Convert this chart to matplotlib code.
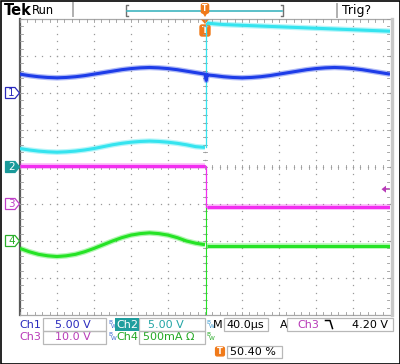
import numpy as np
import matplotlib
matplotlib.use("Agg")
import matplotlib.pyplot as plt
from matplotlib.patches import Rectangle, Polygon, FancyBboxPatch

# ---------------- data (screen divisions: x -5..5, y -4..4) ----------------
x_pre = [-5.0, -4.75, -4.5, -4.25, -4.0, -3.75, -3.5, -3.25, -3.0, -2.75, -2.5,
         -2.25, -2.0, -1.75, -1.5, -1.25, -1.0, -0.75, -0.5, -0.25, 0.0]
x_post = [0.05, 0.25, 0.5, 0.75, 1.0, 1.25, 1.5, 1.75, 2.0, 2.25, 2.5,
          2.75, 3.0, 3.25, 3.5, 3.75, 4.0, 4.25, 4.5, 4.75, 5.0]

ch1_pre = [2.51, 2.47, 2.44, 2.42, 2.41, 2.42, 2.44, 2.47, 2.51, 2.55, 2.59,
           2.63, 2.66, 2.68, 2.69, 2.68, 2.66, 2.63, 2.59, 2.55, 2.51]
ch1_glitch_x = [0.02, 0.035, 0.06]
ch1_glitch_y = [2.40, 2.34, 2.49]
ch1_post = [2.49, 2.47, 2.44, 2.42, 2.41, 2.42, 2.44, 2.47, 2.51, 2.55, 2.59,
            2.63, 2.66, 2.68, 2.69, 2.68, 2.66, 2.63, 2.59, 2.55, 2.51]
ch2_pre = [0.50, 0.46, 0.43, 0.41, 0.40, 0.41, 0.43, 0.46, 0.50, 0.55, 0.60,
           0.64, 0.67, 0.69, 0.70, 0.69, 0.67, 0.64, 0.60, 0.55, 0.53]
ch2_post = [3.89, 3.87, 3.85, 3.84, 3.83, 3.82, 3.81, 3.80, 3.79, 3.78, 3.77,
            3.76, 3.75, 3.74, 3.73, 3.72, 3.71, 3.70, 3.69, 3.68, 3.67]
ch3_pre = [0.04, 0.04, 0.04, 0.04, 0.04, 0.04, 0.04, 0.04, 0.04, 0.04, 0.04,
           0.04, 0.04, 0.04, 0.04, 0.04, 0.04, 0.04, 0.04, 0.04, 0.04]
ch3_post = [-1.08, -1.08, -1.08, -1.08, -1.08, -1.08, -1.08, -1.08, -1.08, -1.08, -1.08,
            -1.08, -1.08, -1.08, -1.08, -1.08, -1.08, -1.08, -1.08, -1.08, -1.08]
ch4_pre = [-2.20, -2.29, -2.36, -2.40, -2.42, -2.40, -2.36, -2.29, -2.20, -2.10, -2.00,
           -1.91, -1.84, -1.80, -1.78, -1.80, -1.84, -1.91, -2.00, -2.06, -2.10]
ch4_post = [-2.14, -2.14, -2.14, -2.14, -2.14, -2.14, -2.14, -2.14, -2.14, -2.14, -2.14,
            -2.14, -2.14, -2.14, -2.14, -2.14, -2.14, -2.14, -2.14, -2.14, -2.14]

ground_levels = [2.0, 0.0, -1.0, -2.0]   # channel 1..4 markers (div)
trig_level = -0.6                         # trigger level arrow (div)

ch_labels = ["Ch1", "Ch2", "Ch3", "Ch4"]
ch_scales = ["5.00 V", "5.00 V", "10.0 V", "500mA"]
timebase = "40.0\u00b5s"
trig_src = "Ch3"
trig_val = "4.20 V"
trig_pos = "50.40 %"

# ---------------- styles ----------------
C_BLUE, C_CYAN, C_MAG, C_GRN = "#1d3ce8", "#35e4ef", "#f22ef0", "#25e325"
T_BLUE, T_TEAL, T_MAG, T_GRN = "#2b2bbd", "#1f9e9e", "#b83ab8", "#22a822"
ORANGE = "#f07a1a"
GRAY = "#9a9a9a"
FONT = "DejaVu Sans"

W, H = 400, 364
fig = plt.figure(figsize=(W / 100, H / 100), dpi=100)
fig.patch.set_facecolor("white")

# overlay axes in pixel coordinates
ov = fig.add_axes([0, 0, 1, 1])
ov.set_xlim(0, W)
ov.set_ylim(H, 0)
ov.axis("off")

# graticule axes
L, R, T, B = 20, 390, 19, 315
ax = fig.add_axes([L / W, (H - B) / H, (R - L) / W, (B - T) / H])
ax.set_xlim(-5, 5)
ax.set_ylim(-4, 4)
ax.axis("off")
ax.patch.set_alpha(0)

# dotted grid
fine_x = np.arange(-5, 5.001, 0.2)
fine_y = np.arange(-4, 4.001, 0.2)
for gy in range(-3, 4):
    ax.plot(fine_x, np.full_like(fine_x, gy), ls="none", marker="s", ms=0.9,
            mfc=GRAY, mec="none", zorder=1)
for gx in range(-4, 5):
    ax.plot(np.full_like(fine_y, gx), fine_y, ls="none", marker="s", ms=0.9,
            mfc=GRAY, mec="none", zorder=1)
# center cross tick marks
tk = 2.0 / 37
for v in fine_x:
    ax.plot([v, v], [-tk, tk], color=GRAY, lw=0.6, zorder=1)
for v in fine_y:
    ax.plot([-tk, tk], [v, v], color=GRAY, lw=0.6, zorder=1)
# border ticks
tb = 3.0 / 37
for v in fine_x:
    ax.plot([v, v], [4, 4 - tb], color=GRAY, lw=0.6, zorder=1)
    ax.plot([v, v], [-4, -4 + tb], color=GRAY, lw=0.6, zorder=1)
for v in fine_y:
    ax.plot([-5, -5 + tb], [v, v], color=GRAY, lw=0.6, zorder=1)
    ax.plot([5, 5 - tb], [v, v], color=GRAY, lw=0.6, zorder=1)


def trace(xs, ys, color, lw_core=2.2, lw_halo=4.0, z=3):
    ax.plot(xs, ys, color=color, lw=lw_halo, alpha=0.35, solid_capstyle="butt",
            solid_joinstyle="round", zorder=z)
    ax.plot(xs, ys, color=color, lw=lw_core, solid_capstyle="butt",
            solid_joinstyle="round", zorder=z + 0.1)


# thin transition lines at trigger
ax.plot([0.03, 0.03], [ch3_post[0], -4], color=C_GRN, lw=0.8, zorder=2)
ax.plot([0.02, 0.02], [ch2_pre[-1], ch2_post[0]], color=C_CYAN, lw=0.9, zorder=2)
ax.plot([0.02, 0.02], [ch3_pre[-1], ch3_post[0]], color=C_MAG, lw=0.9, zorder=2)

trace(x_pre + ch1_glitch_x + x_post, ch1_pre + ch1_glitch_y + ch1_post, C_BLUE)
trace(x_pre, ch2_pre, C_CYAN)
trace(x_post, ch2_post, C_CYAN)
trace(x_pre, ch3_pre, C_MAG)
trace(x_post, ch3_post, C_MAG)
trace(x_pre, ch4_pre, C_GRN)
trace(x_post, ch4_post, C_GRN)

# ---------------- frame ----------------
ov.plot([L, L], [T, B], color="#5a5a5a", lw=1.6, zorder=5)
ov.plot([L, R], [T, T], color="#a8a8a8", lw=0.9, zorder=5)
ov.plot([L, R], [B, B], color="#a8a8a8", lw=0.9, zorder=5)
ov.plot([R + 1.5, R + 1.5], [T, B], color="#c8c8c8", lw=2.4, zorder=5)
ov.add_patch(Rectangle((0.5, 0.5), W - 1, H - 1, fill=False, ec="black", lw=1.2, zorder=10))

# ---------------- top bar ----------------
ov.text(4, 10.5, "Tek", fontsize=10.5, fontweight="bold", family=FONT, va="center", ha="left")
ov.text(32, 10, "Run", fontsize=8.3, family=FONT, va="center", ha="left")
ov.plot([73, 73], [3, 16], color="#b0b0b0", lw=1.4)
ov.plot([337, 337], [4, 17], color="#b0b0b0", lw=1.4)
ov.text(342, 10.5, "Trig?", fontsize=9, family=FONT, va="center", ha="left")
# record bracket
ov.plot([128, 126, 126, 128], [5, 5, 16, 16], color="#707070", lw=1.0)
ov.plot([281, 283, 283, 281], [5, 5, 16, 16], color="#707070", lw=1.0)
ov.plot([127, 282], [11, 11], color="#3fb5c0", lw=1.2)
ov.add_patch(FancyBboxPatch((202, 4.5), 6, 8, boxstyle="round,pad=0.6,rounding_size=1.5",
                            fc=ORANGE, ec=ORANGE, zorder=6))
ov.add_patch(Polygon([[202.5, 13], [207.5, 13], [205, 17]], closed=True, fc=ORANGE, ec="none", zorder=6))
ov.text(205, 8.8, "T", color="white", fontsize=5.5, fontweight="bold", family=FONT,
        ha="center", va="center", zorder=7)

# trigger position marker inside screen
ov.add_patch(Polygon([[201, 19.5], [209, 19.5], [205, 24]], closed=True, fc=ORANGE, ec="none", zorder=6))
ov.add_patch(FancyBboxPatch((200.5, 25.5), 9, 10, boxstyle="round,pad=0.5,rounding_size=2",
                            fc=ORANGE, ec=ORANGE, zorder=6))
ov.text(205, 30.8, "T", color="white", fontsize=6.5, fontweight="bold", family=FONT,
        ha="center", va="center", zorder=7)

# trigger level arrow (right)
ty = (T + B) / 2 - trig_level * 37
ov.add_patch(Polygon([[381.5, ty], [386, ty - 3.5], [386, ty + 3.5]], closed=True,
                     fc=T_MAG, ec="none", zorder=6))
ov.plot([386, 389], [ty, ty], color=T_MAG, lw=1.2, zorder=6)

# channel ground markers
mk_styles = [(T_BLUE, "white", T_BLUE), ("#1a9a9a", "#1a9a9a", "white"),
             ("#c040c8", "white", "#c040c8"), ("#2aae2a", "white", "#2aae2a")]
for i, (lvl, (ec, fc, tc)) in enumerate(zip(ground_levels, mk_styles)):
    cy = (T + B) / 2 - lvl * 37
    pts = [[5.5, cy - 5.5], [15, cy - 5.5], [19.5, cy], [15, cy + 5.5], [5.5, cy + 5.5]]
    ov.add_patch(Polygon(pts, closed=True, fc=fc, ec=ec, lw=0.9, zorder=6))
    ov.text(11.5, cy + 0.3, str(i + 1), color=tc, fontsize=7.5, family=FONT,
            ha="center", va="center", zorder=7)

# ---------------- bottom readout ----------------
BOX = "#b8b8b8"
r1, r2, r3 = 324.5, 337.5, 352
def box(x0, y0, x1, y1):
    ov.add_patch(Rectangle((x0, y0), x1 - x0, y1 - y0, fill=False, ec=BOX, lw=0.9, zorder=4))

box(43, 318, 106, 331)
box(43, 331, 106, 344)
box(139, 318, 205, 331)
box(139, 331, 205, 344)
box(224, 318, 268, 331)
box(287, 318, 393, 331)
box(227, 346, 282, 358)
ov.add_patch(Rectangle((115, 318), 24, 13, fc="#1f9e9e", ec="none", zorder=4))

fs = 8
ov.text(19, r1, ch_labels[0], color=T_BLUE, fontsize=fs, family=FONT, va="center")
ov.text(55, r1, ch_scales[0], color=T_BLUE, fontsize=fs, family=FONT, va="center")
ov.text(116, r1, ch_labels[1], color="white", fontsize=fs, family=FONT, va="center", zorder=5)
ov.text(148, r1, ch_scales[1], color="#22a5a5", fontsize=fs, family=FONT, va="center")
ov.text(19, r2, ch_labels[2], color=T_MAG, fontsize=fs, family=FONT, va="center")
ov.text(55, r2, ch_scales[2], color=T_MAG, fontsize=fs, family=FONT, va="center")
ov.text(116, r2, ch_labels[3], color=T_GRN, fontsize=fs, family=FONT, va="center")
ov.text(143, r2, ch_scales[3] + " \u03a9", color=T_GRN, fontsize=fs, family=FONT, va="center")

def bw(x, y, c):
    ov.text(x, y - 2.5, "B", color=c, fontsize=4.2, family=FONT, va="center", ha="left")
    ov.text(x + 2.5, y + 1.5, "W", color=c, fontsize=4.2, family=FONT, va="center", ha="left")

bw(108, r1, "#3a6ad0")
bw(108, r2, "#3a6ad0")
bw(206, r1, "#3a9ad0")
bw(206, r2, T_GRN)

ov.text(213, r1, "M", color="black", fontsize=fs, family=FONT, va="center")
ov.text(226, r1, timebase, color="black", fontsize=fs, family=FONT, va="center")
ov.text(280, r1, "A", color="black", fontsize=fs, family=FONT, va="center")
ov.text(297, r1, trig_src, color=T_MAG, fontsize=fs, family=FONT, va="center")
ov.plot([325.5, 330, 332.5], [320.5, 320.5, 328.5], color="black", lw=1.1)
ov.text(352, r1, trig_val, color="black", fontsize=fs, family=FONT, va="center")

ov.add_patch(FancyBboxPatch((216, 347.5), 8, 8, boxstyle="round,pad=0.4,rounding_size=1.5",
                            fc=ORANGE, ec=ORANGE, zorder=6))
ov.text(220, 351.8, "T", color="white", fontsize=6, fontweight="bold", family=FONT,
        ha="center", va="center", zorder=7)
ov.text(230, r3, trig_pos, color="black", fontsize=fs, family=FONT, va="center")

fig.savefig("out.png", dpi=100, facecolor="white")
